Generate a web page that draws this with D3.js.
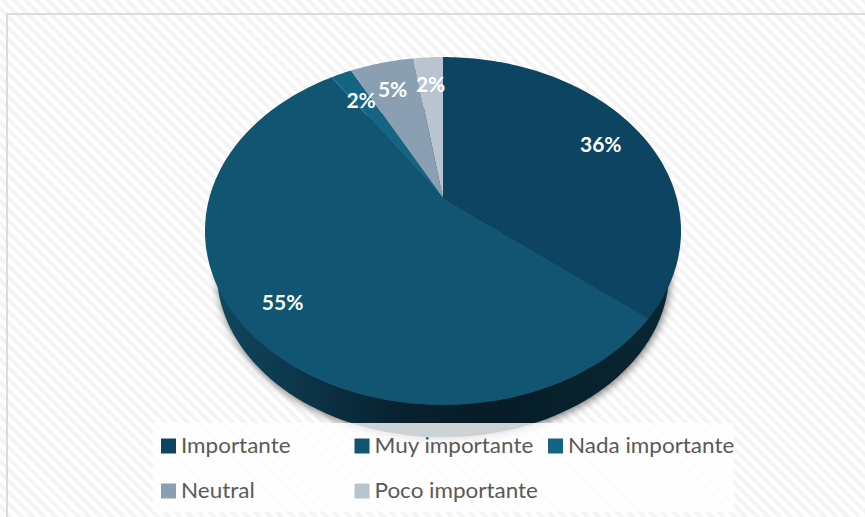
<!DOCTYPE html>
<html>
<head>
<meta charset="utf-8">
<script src="https://cdn.jsdelivr.net/npm/d3@7"></script>
<style>
  html, body { margin: 0; padding: 0; background: #fff; }
  svg { display: block; }
  text { font-family: Lato, "Open Sans", sans-serif; }
</style>
</head>
<body>
<svg id="chart" width="865" height="517"></svg>
<script>
// values
const categories = ["Importante", "Muy importante", "Nada importante", "Neutral", "Poco importante"];
const values = [35.9, 54.8, 1.7, 5.2, 2.4];
const colors = ["#0d4461", "#115573", "#146584", "#8a9fb2", "#b9c4d0"];

const width = 865, height = 517;
const svg = d3.select("#chart");
const defs = svg.append("defs");

// hatched background
const hatch = defs.append("pattern")
    .attr("id", "hatch")
    .attr("width", 8).attr("height", 8)
    .attr("patternUnits", "userSpaceOnUse")
    .attr("patternTransform", "rotate(-45)");
hatch.append("rect").attr("width", 8).attr("height", 8).attr("fill", "#fff");
hatch.append("rect").attr("width", 4).attr("height", 8).attr("fill", "#f4f4f4");

defs.append("filter").attr("id", "blur")
    .attr("x", "-10%").attr("y", "-10%").attr("width", "120%").attr("height", "120%")
    .append("feGaussianBlur").attr("stdDeviation", 4);

const wallGrad = defs.append("linearGradient").attr("id", "wall")
    .attr("gradientUnits", "userSpaceOnUse")
    .attr("x1", 205).attr("x2", 681).attr("y1", 0).attr("y2", 0);
[[0, "#124a64"], [0.15, "#0d3a50"], [0.4, "#08222f"], [0.6, "#061c27"], [0.85, "#08232f"], [1, "#0a2733"]]
    .forEach(s => wallGrad.append("stop").attr("offset", s[0]).attr("stop-color", s[1]));

svg.append("rect").attr("width", width).attr("height", height).attr("fill", "url(#hatch)");
// chart border
svg.append("path")
    .attr("d", "M7,517V14H865")
    .attr("fill", "none").attr("stroke", "#dcdcdc").attr("stroke-width", 2);

// perspective pie: the centre of the disc sits above the centre of its outline
const cx = 443, cy = 198, k = -0.1897, ax = 233.7, ay = 167.7;
function project(theta, r = 1) {
    const u = r * Math.sin(theta), v = -r * Math.cos(theta);
    const d = 1 + k * v;
    return [cx + ax * u / d, cy + ay * v / d];
}
// lower rim of the disc, slightly smaller because it is further away
function projectLow(theta) {
    const p = project(theta);
    return [cx + (p[0] - cx) * 0.95, 231 + (p[1] - 231) * 0.95 + 41];
}

const pie = d3.pie().sort(null).value(d => d);
const arcs = pie(values);
const line = d3.line();
const rim = d3.range(0, 361, 2).map(d => d * Math.PI / 180);

// soft shadow round the disc
svg.append("path")
    .attr("d", line(rim.map(projectLow).map(p => [p[0] + 1, p[1] + 2])) + "Z")
    .attr("fill", "#000").attr("opacity", 0.55)
    .attr("filter", "url(#blur)");

// side wall
svg.append("path")
    .attr("d", line(rim.map(projectLow)) + "Z")
    .attr("fill", "url(#wall)");

// top slices
svg.append("g").selectAll("path")
    .data(arcs)
    .enter()
    .append("path")
    .attr("d", d => {
        const n = Math.max(4, Math.ceil((d.endAngle - d.startAngle) / 0.02));
        const pts = d3.range(n + 1).map(i => project(d.startAngle + (d.endAngle - d.startAngle) * i / n));
        return "M" + cx + "," + cy + "L" + line(pts).slice(1) + "Z";
    })
    .attr("fill", (d, i) => colors[i]);

// percent labels
const labelR = [0.785, 0.83, 0.754, 0.771, 0.777];
const labelShift = [2, 0.5, -2.5, -1.5, -0.5];
svg.append("g").selectAll("text")
    .data(arcs)
    .enter()
    .append("text")
    .attr("x", (d, i) => project((d.startAngle + d.endAngle) / 2, labelR[i])[0] + labelShift[i])
    .attr("y", (d, i) => project((d.startAngle + d.endAngle) / 2, labelR[i])[1])
    .attr("text-anchor", "middle")
    .attr("dy", "0.35em")
    .attr("fill", "#fff")
    .attr("font-size", 21)
    .attr("font-weight", 700)
    .text(d => Math.round(d.value) + "%");

// legend, washes out what is behind it
svg.append("rect")
    .attr("x", 153).attr("y", 423).attr("width", 581).attr("height", 89)
    .attr("fill", "#fff").attr("opacity", 0.8);

const legendX = d3.scalePoint().domain([0, 1, 2]).range([161, 548]);
const legendY = d3.scalePoint().domain([0, 1]).range([446, 491]);
const legend = svg.append("g").selectAll("g")
    .data(categories)
    .enter()
    .append("g")
    .attr("transform", (d, i) => `translate(${legendX(i % 3)},${legendY(Math.floor(i / 3))})`);
legend.append("rect")
    .attr("y", -7.5).attr("width", 15).attr("height", 15)
    .attr("fill", (d, i) => colors[i]);
// reference face is a little wider than Lato
legend.append("text")
    .attr("transform", "translate(20,0) scale(1.07,1)")
    .attr("dy", "0.35em")
    .attr("fill", "#595959")
    .attr("font-size", 21)
    .text(d => d);
</script>
</body>
</html>
